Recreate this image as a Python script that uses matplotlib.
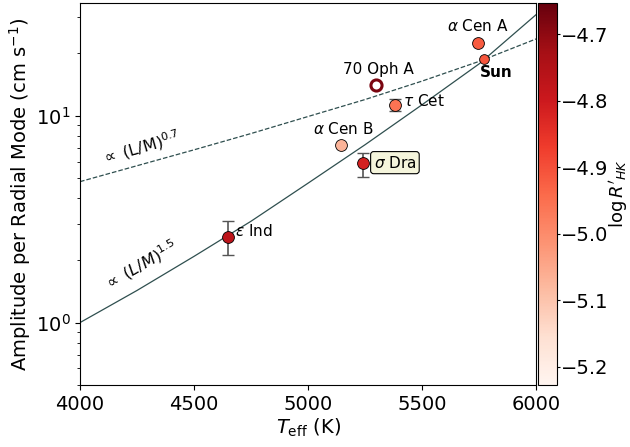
import numpy as np
import matplotlib
matplotlib.use("Agg")
import matplotlib.pyplot as plt
from matplotlib.colors import Normalize

# stars: Teff, amplitude, asymmetric errors, activity
names = [r"$\alpha$ Cen A", "Sun", "70 Oph A", r"$\tau$ Cet", r"$\alpha$ Cen B", r"$\sigma$ Dra", r"$\varepsilon$ Ind"]
teff = [5745, 5772, 5300, 5383, 5145, 5242, 4649]
amp = [22.5, 18.7, 14.0, 11.3, 7.2, 5.93, 2.6]
err_lo = [0, 0, 0, 0.8, 0, 0.86, 0.49]
err_hi = [0, 0, 0, 0.8, 0, 0.67, 0.51]
logrhk = [-4.917, -4.91, -4.676, -4.957, -5.072, -4.814, -4.768]

# scaling-relation curves
teff_grid = [4000, 4250, 4500, 4750, 5000, 5250, 5500, 5750, 6000]
amp_15 = [1.00, 1.43, 2.09, 3.09, 4.72, 7.24, 11.3, 17.8, 30.8]
amp_07 = [4.80, 5.73, 6.84, 8.20, 9.91, 11.97, 14.7, 18.3, 23.5]

cmap = plt.get_cmap("Reds")
norm = Normalize(vmin=-5.227, vmax=-4.653)

fig = plt.figure(figsize=(6.3, 4.47), dpi=100)
ax = fig.add_axes([0.127, 0.139, 0.724, 0.854])
cax = fig.add_axes([0.854, 0.139, 0.030, 0.854])

ax.plot(teff_grid, amp_15, color="darkslategray", lw=0.9, zorder=1)
ax.plot(teff_grid, amp_07, color="darkslategray", lw=0.9, ls="--", zorder=1)

for i in range(len(names)):
    if err_lo[i] > 0:
        ax.errorbar(teff[i], amp[i], yerr=[[err_lo[i]], [err_hi[i]]], fmt="none",
                    ecolor="#555555", elinewidth=1.2, capsize=4, zorder=2)
    c = cmap(norm(logrhk[i]))
    if names[i] == "70 Oph A":
        ax.plot(teff[i], amp[i], "o", ms=8, mfc="white", mec=c, mew=2.2, zorder=3)
    elif names[i] == "Sun":
        ax.plot(teff[i], amp[i], "o", ms=7, mfc=c, mec="black", mew=0.6, zorder=3)
    else:
        ax.plot(teff[i], amp[i], "o", ms=8.5, mfc=c, mec="black", mew=0.6, zorder=3)

fs = 11
ax.annotate(names[0], (teff[0], amp[0]), xytext=(0, 6), textcoords="offset points", ha="center", va="bottom", fontsize=fs)
ax.annotate(names[1], (teff[1], amp[1]), xytext=(9, -9.5), textcoords="offset points", ha="center", va="center", fontsize=fs, fontweight="bold")
ax.annotate(names[2], (teff[2], amp[2]), xytext=(1.5, 6), textcoords="offset points", ha="center", va="bottom", fontsize=fs)
ax.annotate(names[3], (teff[3], amp[3]), xytext=(5.5, 3), textcoords="offset points", ha="left", va="center", fontsize=fs)
ax.annotate(names[4], (teff[4], amp[4]), xytext=(1.5, 6), textcoords="offset points", ha="center", va="bottom", fontsize=fs)
ax.annotate(names[5], (teff[5], amp[5]), xytext=(7.5, 0), textcoords="offset points", ha="left", va="center", fontsize=fs,
            bbox=dict(boxstyle="round,pad=0.2", fc="beige", ec="black", lw=0.8))
ax.annotate(names[6], (teff[6], amp[6]), xytext=(5, 4), textcoords="offset points", ha="left", va="center", fontsize=fs)

ax.text(4265, 7.0, r"$\propto$ (L/M)$^{0.7}$", rotation=16, ha="center", va="center", fontsize=11.5)
ax.text(4265, 1.88, r"$\propto$ $(L/M)^{1.5}$", rotation=30, ha="center", va="center", fontsize=11.5)

ax.set_yscale("log")
ax.set_xlim(4000, 6000)
ax.set_ylim(0.5, 35)
ax.set_xticks([4000, 4500, 5000, 5500, 6000])
ax.tick_params(labelsize=14)
ax.set_xlabel(r"$T_{\rm eff}$ (K)", fontsize=14, labelpad=2)
ax.set_ylabel(r"Amplitude per Radial Mode (cm s$^{-1}$)", fontsize=14, labelpad=2)

sm = matplotlib.cm.ScalarMappable(norm=norm, cmap=cmap)
cb = fig.colorbar(sm, cax=cax)
cb.set_ticks([-5.2, -5.1, -5.0, -4.9, -4.8, -4.7])
cb.ax.tick_params(labelsize=14, length=2, pad=1)
cb.set_label(r"$\log R'_{HK}$", fontsize=13, labelpad=-1)

fig.savefig("out.png", dpi=100)
